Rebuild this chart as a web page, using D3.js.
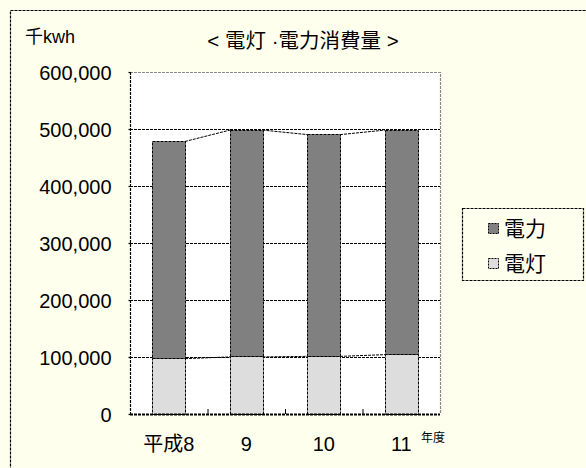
<!DOCTYPE html>
<html>
<head>
<meta charset="utf-8">
<script src="https://cdn.jsdelivr.net/npm/d3@7/dist/d3.min.js"></script>
<style>
  html, body { margin: 0; padding: 0; background: #ffffee; }
  svg { display: block; }
  text { font-family: "Liberation Sans", Arial, "Noto Sans CJK JP", sans-serif; fill: #000; }
</style>
</head>
<body>
<svg id="chart" width="586" height="468"></svg>
<script>
// 年度別の電灯・電力消費量（千kWh）
const years = ["平成8", "9", "10", "11"];
const lighting = [98000, 101000, 102000, 105000];   // 電灯
const power = [381000, 398000, 389000, 394000];      // 電力
const yTicks = [0, 100000, 200000, 300000, 400000, 500000, 600000];
const seriesNames = ["電力", "電灯"];

const svg = d3.select("#chart");
const plot = { left: 130, right: 440, top: 72, bottom: 414 };
const dash = "3,1";

// chart area frame
svg.append("rect").attr("x", 10.5).attr("y", 10.5).attr("width", 620).attr("height", 500)
  .attr("fill", "#ffffee").attr("stroke", "#000").attr("stroke-width", 1.2).attr("stroke-dasharray", dash);

const x = d3.scaleBand().domain(years).range([plot.left, plot.right]).padding(0);
const y = d3.scaleLinear().domain([0, 600000]).range([plot.bottom, plot.top]);
const barW = x.bandwidth() * 0.42;

// plot area
svg.append("rect").attr("x", plot.left).attr("y", plot.top)
  .attr("width", plot.right - plot.left).attr("height", plot.bottom - plot.top)
  .attr("fill", "#fff");
// top & right border (grey)
svg.append("path")
  .attr("d", `M${plot.left},${plot.top + 0.5}H${plot.right + 0.5}V${plot.bottom}`)
  .attr("fill", "none").attr("stroke", "#888").attr("stroke-width", 1.2).attr("stroke-dasharray", dash);

// gridlines
svg.append("g").selectAll("line").data(yTicks.filter(d => d > 0 && d < 600000)).join("line")
  .attr("x1", plot.left).attr("x2", plot.right)
  .attr("y1", d => Math.round(y(d)) + 0.5).attr("y2", d => Math.round(y(d)) + 0.5)
  .attr("stroke", "#000").attr("stroke-width", 1).attr("stroke-dasharray", dash);

// stacked data
const stack = years.map((yr, i) => ({
  yr,
  light: [0, lighting[i]],
  power: [lighting[i], lighting[i] + power[i]]
}));

const cx = d => x(d.yr) + x.bandwidth() / 2;

// bars
const bars = svg.append("g");
[["light", "#dddddd"], ["power", "#808080"]].forEach(([key, col]) => {
  bars.selectAll("rect." + key).data(stack).join("rect").attr("class", key)
    .attr("x", d => Math.round(cx(d) - barW / 2) + 0.5)
    .attr("y", d => Math.round(y(d[key][1])) + 0.5)
    .attr("width", Math.round(barW))
    .attr("height", d => Math.round(y(d[key][0])) - Math.round(y(d[key][1])))
    .attr("fill", col).attr("stroke", "#000").attr("stroke-width", 1).attr("stroke-dasharray", dash);
});

// series lines between bar tops
["light", "power"].forEach(key => {
  const segs = d3.pairs(stack);
  svg.append("g").selectAll("line").data(segs).join("line")
    .attr("x1", d => cx(d[0]) + barW / 2).attr("y1", d => y(d[0][key][1]) + 0.5)
    .attr("x2", d => cx(d[1]) - barW / 2).attr("y2", d => y(d[1][key][1]) + 0.5)
    .attr("stroke", "#000").attr("stroke-width", 1).attr("stroke-dasharray", dash);
});

// y axis
const yAxis = svg.append("g").attr("transform", `translate(${plot.left + 0.5},0)`)
  .call(d3.axisLeft(y).tickValues(yTicks).tickSize(2).tickPadding(17)
    .tickFormat(d3.format(",")));
yAxis.selectAll("line, path").attr("stroke", "#000").attr("stroke-width", 1.2).attr("stroke-dasharray", dash);
yAxis.select(".domain").attr("d", `M0,${plot.top}V${plot.bottom}`);
yAxis.selectAll("text").attr("font-size", 20).attr("dy", "0.36em")
  .style("font-family", "'Liberation Sans', Arial, sans-serif");

// x axis
const xAxis = svg.append("g").attr("transform", `translate(0,${plot.bottom + 0.5})`)
  .call(d3.axisBottom(x).tickSize(0).tickPadding(22));
xAxis.select(".domain").attr("d", `M${plot.left},0H${plot.right}`)
  .attr("stroke", "#000").attr("stroke-width", 2).attr("stroke-dasharray", dash);
xAxis.selectAll("text").attr("font-size", 20)
  .style("font-family", "'Liberation Sans', Arial, 'Noto Sans CJK JP', sans-serif");
// inward tick marks at category boundaries
svg.append("g").selectAll("line").data(years.slice(1)).join("line")
  .attr("x1", d => x(d) + 0.5).attr("x2", d => x(d) + 0.5)
  .attr("y1", plot.bottom).attr("y2", plot.bottom - 5)
  .attr("stroke", "#000").attr("stroke-width", 1);

// unit labels
svg.append("text").attr("x", 25).attr("y", 43).attr("font-size", 18).text("千kwh");
svg.append("text").attr("x", 421).attr("y", 442).attr("font-size", 12).text("年度");

// title
svg.append("text").attr("x", 303).attr("y", 48).attr("text-anchor", "middle")
  .attr("font-size", 20.5).text("< 電灯 ·電力消費量 >");

// legend
const lg = svg.append("g");
lg.append("rect").attr("x", 462.5).attr("y", 208.5).attr("width", 121).attr("height", 72)
  .attr("fill", "#ffffee").attr("stroke", "#000").attr("stroke-width", 1.2).attr("stroke-dasharray", dash);
const legCols = { "電力": "#808080", "電灯": "#dddddd" };
seriesNames.forEach((name, i) => {
  const yy = 228 + i * 35;
  lg.append("rect").attr("x", 488.5).attr("y", yy - 4.5).attr("width", 10).attr("height", 10)
    .attr("fill", legCols[name]).attr("stroke", "#000").attr("stroke-width", 1).attr("stroke-dasharray", "2,1");
  lg.append("text").attr("x", 504).attr("y", yy + 8).attr("font-size", 21)
    .style("font-family", "'Noto Sans CJK JP', sans-serif").text(name);
});
</script>
</body>
</html>
